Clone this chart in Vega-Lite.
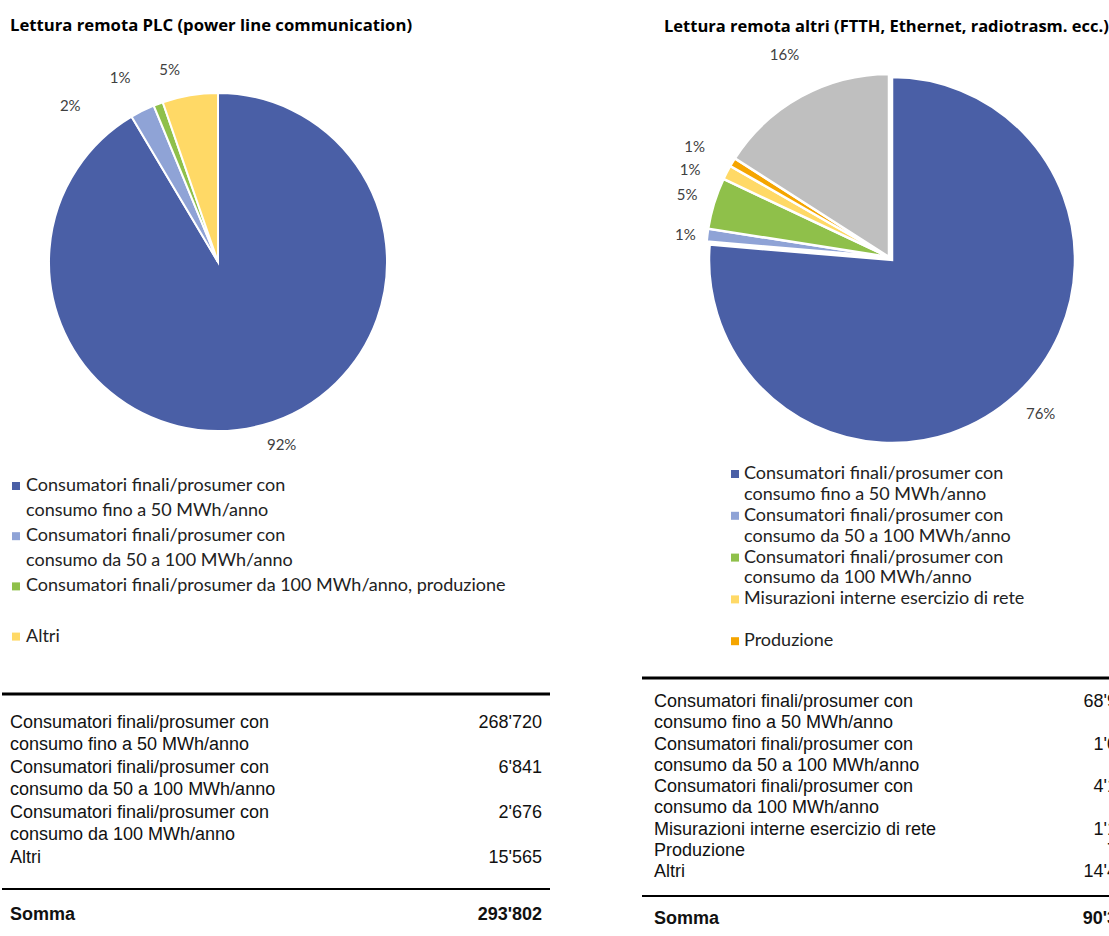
{
  "$schema": "https://vega.github.io/schema/vega-lite/v6.json",
  "padding": {"left": 0, "top": 17, "right": 0, "bottom": 0},
  "background": "white",
  "spacing": 0,
  "config": {
    "view": {"stroke": null, "fill": "#ffffff"},
    "locale": {"number": {"decimal": ".", "thousands": "'", "grouping": [3], "currency": ["", ""]}}
  },
  "resolve": {"scale": {"color": "independent"}},
  "datasets": {
    "plc": [
      {"legenda": "Consumatori finali/prosumer con\nconsumo fino a 50 MWh/anno", "tabella": "Consumatori finali/prosumer con\nconsumo fino a 50 MWh/anno", "valore": 268720, "quota": "92%", "ordine": 1, "riga_legenda": 0, "riga_tabella": 0},
      {"legenda": "Consumatori finali/prosumer con\nconsumo da 50 a 100 MWh/anno", "tabella": "Consumatori finali/prosumer con\nconsumo da 50 a 100 MWh/anno", "valore": 6841, "quota": "2%", "ordine": 2, "riga_legenda": 2, "riga_tabella": 2},
      {"legenda": "Consumatori finali/prosumer da 100 MWh/anno, produzione", "tabella": "Consumatori finali/prosumer con\nconsumo da 100 MWh/anno", "valore": 2676, "quota": "1%", "ordine": 3, "riga_legenda": 4, "riga_tabella": 4},
      {"legenda": "Altri", "tabella": "Altri", "valore": 15565, "quota": "5%", "ordine": 4, "riga_legenda": 6, "riga_tabella": 6}
    ],
    "altri": [
      {"legenda": "Consumatori finali/prosumer con\nconsumo fino a 50 MWh/anno", "tabella": "Consumatori finali/prosumer con\nconsumo fino a 50 MWh/anno", "valore": 68980, "quota": "76%", "ordine": 1, "riga_legenda": 0, "riga_tabella": 0},
      {"legenda": "Consumatori finali/prosumer con\nconsumo da 50 a 100 MWh/anno", "tabella": "Consumatori finali/prosumer con\nconsumo da 50 a 100 MWh/anno", "valore": 1020, "quota": "1%", "ordine": 2, "riga_legenda": 2, "riga_tabella": 2},
      {"legenda": "Consumatori finali/prosumer con\nconsumo da 100 MWh/anno", "tabella": "Consumatori finali/prosumer con\nconsumo da 100 MWh/anno", "valore": 4100, "quota": "5%", "ordine": 3, "riga_legenda": 4, "riga_tabella": 4},
      {"legenda": "Misurazioni interne esercizio di rete", "tabella": "Misurazioni interne esercizio di rete", "valore": 1150, "quota": "1%", "ordine": 4, "riga_legenda": 6, "riga_tabella": 6},
      {"legenda": "Produzione", "tabella": "Produzione", "valore": 700, "quota": "1%", "ordine": 5, "riga_legenda": 8, "riga_tabella": 7},
      {"legenda": "Altri", "tabella": "Altri", "valore": 14400, "quota": "16%", "ordine": 6, "riga_legenda": null, "riga_tabella": 8}
    ]
  },
  "vconcat": [
    {
      "bounds": "flush",
      "spacing": 239,
      "resolve": {"scale": {"color": "independent"}},
      "hconcat": [
        {
          "width": 432,
          "height": 402,
          "title": {"text": "Lettura remota PLC (power line communication)", "anchor": "start", "frame": "group", "dx": 8, "offset": 23, "font": "Open Sans", "fontSize": 16.7, "fontWeight": "bold", "color": "#000000"},
          "data": {"name": "plc"},
          "encoding": {
            "theta": {"field": "valore", "type": "quantitative", "stack": true},
            "order": {"field": "ordine", "type": "quantitative"}
          },
          "layer": [
            {"mark": {"type": "arc", "outerRadius": 169, "stroke": "#ffffff", "strokeWidth": 2},
             "encoding": {"color": {"field": "legenda", "type": "nominal", "legend": null,
               "scale": {"domain": ["Consumatori finali/prosumer con\nconsumo fino a 50 MWh/anno", "Consumatori finali/prosumer con\nconsumo da 50 a 100 MWh/anno", "Consumatori finali/prosumer da 100 MWh/anno, produzione", "Altri"],
                         "range": ["#4A5FA6", "#8FA3D6", "#8FC04A", "#FFD966"]}}}},
            {"mark": {"type": "text", "radius": 195, "dx": 12, "dy": -5, "font": "Lato", "fontSize": 15, "fill": "#404040"},
             "encoding": {"text": {"field": "quota"}, "opacity": {"condition": {"test": "datum.ordine == 1", "value": 1}, "value": 0}}},
            {"mark": {"type": "text", "radius": 174, "dx": -70, "dy": 0, "font": "Lato", "fontSize": 15, "fill": "#404040"},
             "encoding": {"text": {"field": "quota"}, "opacity": {"condition": {"test": "datum.ordine == 2", "value": 1}, "value": 0}}},
            {"mark": {"type": "text", "radius": 195, "dx": -29, "dy": -2, "font": "Lato", "fontSize": 15, "fill": "#404040"},
             "encoding": {"text": {"field": "quota"}, "opacity": {"condition": {"test": "datum.ordine == 3", "value": 1}, "value": 0}}},
            {"mark": {"type": "text", "radius": 195, "dx": -16, "dy": 0, "font": "Lato", "fontSize": 15, "fill": "#404040"},
             "encoding": {"text": {"field": "quota"}, "opacity": {"condition": {"test": "datum.ordine == 4", "value": 1}, "value": 0}}}
          ]
        },
        {
          "width": 438,
          "height": 398,
          "title": {"text": "Lettura remota altri (FTTH, Ethernet, radiotrasm. ecc.)", "anchor": "start", "frame": "group", "dx": -9, "offset": 13, "font": "Open Sans", "fontSize": 16.5, "fontWeight": "bold", "color": "#000000"},
          "data": {"name": "altri"},
          "encoding": {
            "theta": {"field": "valore", "type": "quantitative", "stack": true},
            "order": {"field": "ordine", "type": "quantitative"},
            "color": {"field": "legenda", "type": "nominal", "legend": null,
              "scale": {"domain": ["Consumatori finali/prosumer con\nconsumo fino a 50 MWh/anno", "Consumatori finali/prosumer con\nconsumo da 50 a 100 MWh/anno", "Consumatori finali/prosumer con\nconsumo da 100 MWh/anno", "Misurazioni interne esercizio di rete", "Produzione", "Altri"],
                        "range": ["#4A5FA6", "#8FA3D6", "#8FC04A", "#FFD966", "#F5A500", "#BFBFBF"]}}
          },
          "layer": [
            {"mark": {"type": "arc", "outerRadius": 183, "stroke": "#ffffff", "strokeWidth": 2.5},
             "encoding": {"opacity": {"condition": {"test": "datum.ordine == 1", "value": 1}, "value": 0}}},
            {"mark": {"type": "arc", "outerRadius": 183, "stroke": "#ffffff", "strokeWidth": 2.5, "xOffset": -3, "yOffset": -3},
             "encoding": {"opacity": {"condition": {"test": "datum.ordine == 1", "value": 0}, "value": 1}}},
            {"mark": {"type": "text", "radius": 205, "dx": 10, "dy": 3, "font": "Lato", "fontSize": 15, "fill": "#404040"},
             "encoding": {"color": null, "text": {"field": "quota"}, "opacity": {"condition": {"test": "datum.ordine == 1", "value": 1}, "value": 0}}},
            {"mark": {"type": "text", "radius": 205, "dx": -3, "dy": 0, "font": "Lato", "fontSize": 15, "fill": "#404040"},
             "encoding": {"color": null, "text": {"field": "quota"}, "opacity": {"condition": {"test": "datum.ordine == 2", "value": 1}, "value": 0}}},
            {"mark": {"type": "text", "radius": 205, "dx": -9, "dy": -5, "font": "Lato", "fontSize": 15, "fill": "#404040"},
             "encoding": {"color": null, "text": {"field": "quota"}, "opacity": {"condition": {"test": "datum.ordine == 3", "value": 1}, "value": 0}}},
            {"mark": {"type": "text", "radius": 205, "dx": -20, "dy": 5, "font": "Lato", "fontSize": 15, "fill": "#404040"},
             "encoding": {"color": null, "text": {"field": "quota"}, "opacity": {"condition": {"test": "datum.ordine == 4", "value": 1}, "value": 0}}},
            {"mark": {"type": "text", "radius": 205, "dx": -22, "dy": -7, "font": "Lato", "fontSize": 15, "fill": "#404040"},
             "encoding": {"color": null, "text": {"field": "quota"}, "opacity": {"condition": {"test": "datum.ordine == 5", "value": 1}, "value": 0}}},
            {"mark": {"type": "text", "radius": 205, "dx": -9, "dy": -25, "font": "Lato", "fontSize": 15, "fill": "#404040"},
             "encoding": {"color": null, "text": {"field": "quota"}, "opacity": {"condition": {"test": "datum.ordine == 6", "value": 1}, "value": 0}}}
          ]
        }
      ]
    },
    {
      "bounds": "flush",
      "spacing": 165,
      "resolve": {"scale": {"color": "independent"}},
      "hconcat": [
        {
          "width": 560,
          "height": 207,
          "data": {"name": "plc"},
          "encoding": {
            "x": {"datum": 0, "type": "quantitative", "scale": {"domain": [0, 1], "nice": false, "zero": false}, "axis": null},
            "y": {"field": "riga_legenda", "type": "quantitative", "scale": {"domain": [-0.916, 7.331], "reverse": true, "nice": false, "zero": false}, "axis": null}
          },
          "layer": [
            {"mark": {"type": "square", "size": 64, "opacity": 1, "xOffset": 14},
             "encoding": {"color": {"field": "legenda", "type": "nominal", "legend": null,
               "scale": {"domain": ["Consumatori finali/prosumer con\nconsumo fino a 50 MWh/anno", "Consumatori finali/prosumer con\nconsumo da 50 a 100 MWh/anno", "Consumatori finali/prosumer da 100 MWh/anno, produzione", "Altri"],
                         "range": ["#4A5FA6", "#8FA3D6", "#8FC04A", "#FFD966"]}}}},
            {"mark": {"type": "text", "align": "left", "baseline": "middle", "dx": 24, "lineBreak": "\n", "lineHeight": 25.1, "font": "Lato", "fontSize": 18, "fill": "#222222"},
             "encoding": {"text": {"field": "legenda"}}}
          ]
        },
        {
          "width": 384,
          "height": 207,
          "data": {"name": "altri"},
          "transform": [{"filter": {"field": "riga_legenda", "valid": true}}],
          "encoding": {
            "x": {"datum": 0, "type": "quantitative", "scale": {"domain": [0, 1], "nice": false, "zero": false}, "axis": null},
            "y": {"field": "riga_legenda", "type": "quantitative", "scale": {"domain": [-0.526, 9.378], "reverse": true, "nice": false, "zero": false}, "axis": null}
          },
          "layer": [
            {"mark": {"type": "square", "size": 64, "opacity": 1, "xOffset": 8},
             "encoding": {"color": {"field": "legenda", "type": "nominal", "legend": null,
               "scale": {"domain": ["Consumatori finali/prosumer con\nconsumo fino a 50 MWh/anno", "Consumatori finali/prosumer con\nconsumo da 50 a 100 MWh/anno", "Consumatori finali/prosumer con\nconsumo da 100 MWh/anno", "Misurazioni interne esercizio di rete", "Produzione", "Altri"],
                         "range": ["#4A5FA6", "#8FA3D6", "#8FC04A", "#FFD966", "#F5A500", "#BFBFBF"]}}}},
            {"mark": {"type": "text", "align": "left", "baseline": "middle", "dx": 17, "lineBreak": "\n", "lineHeight": 20.9, "font": "Lato", "fontSize": 18, "fill": "#222222"},
             "encoding": {"text": {"field": "legenda"}}}
          ]
        }
      ]
    },
    {
      "bounds": "flush",
      "spacing": 92,
      "hconcat": [
        {
          "width": 548,
          "height": 255,
          "data": {"name": "plc"},
          "layer": [
            {"mark": {"type": "text", "align": "left", "baseline": "middle", "dx": 8, "lineBreak": "\n", "lineHeight": 22, "font": "Liberation Sans", "fontSize": 18, "fill": "#111111"},
             "encoding": {
               "x": {"datum": 0, "type": "quantitative", "scale": {"domain": [0, 1], "nice": false, "zero": false}, "axis": null},
               "y": {"field": "riga_tabella", "type": "quantitative", "scale": {"domain": [-2.356, 8.977], "reverse": true, "nice": false, "zero": false}, "axis": null},
               "text": {"field": "tabella"}}},
            {"mark": {"type": "text", "align": "right", "baseline": "middle", "dx": -8, "font": "Liberation Sans", "fontSize": 18, "fill": "#111111"},
             "encoding": {
               "x": {"datum": 1, "type": "quantitative"},
               "y": {"field": "riga_tabella", "type": "quantitative"},
               "text": {"field": "valore", "type": "quantitative", "format": ",d"}}},
            {"transform": [{"aggregate": [{"op": "sum", "field": "valore", "as": "totale"}]}],
             "layer": [
               {"mark": {"type": "rule", "strokeWidth": 3, "color": "#000000"},
                "encoding": {"x": {"datum": 0, "type": "quantitative"}, "x2": {"datum": 1}, "y": {"datum": -1.289, "type": "quantitative"}}},
               {"mark": {"type": "rule", "strokeWidth": 2, "color": "#000000"},
                "encoding": {"x": {"datum": 0, "type": "quantitative"}, "x2": {"datum": 1}, "y": {"datum": 7.378, "type": "quantitative"}}},
               {"mark": {"type": "text", "text": "Somma", "align": "left", "baseline": "middle", "dx": 8, "font": "Liberation Sans", "fontSize": 18, "fontWeight": "bold", "fill": "#111111"},
                "encoding": {"x": {"datum": 0, "type": "quantitative"}, "y": {"datum": 8.533, "type": "quantitative"}}},
               {"mark": {"type": "text", "align": "right", "baseline": "middle", "dx": -8, "font": "Liberation Sans", "fontSize": 18, "fontWeight": "bold", "fill": "#111111"},
                "encoding": {"x": {"datum": 1, "type": "quantitative"}, "y": {"datum": 8.533, "type": "quantitative"}, "text": {"field": "totale", "type": "quantitative", "format": ",d"}}}
             ]}
          ]
        },
        {
          "width": 469,
          "height": 257,
          "data": {"name": "altri"},
          "layer": [
            {"mark": {"type": "text", "align": "left", "baseline": "middle", "dx": 12, "lineBreak": "\n", "lineHeight": 21, "font": "Liberation Sans", "fontSize": 18, "fill": "#111111"},
             "encoding": {
               "x": {"datum": 0, "type": "quantitative", "scale": {"domain": [0, 1], "nice": false, "zero": false}, "axis": null},
               "y": {"field": "riga_tabella", "type": "quantitative", "scale": {"domain": [-1.506, 10.588], "reverse": true, "nice": false, "zero": false}, "axis": null},
               "text": {"field": "tabella"}}},
            {"mark": {"type": "text", "align": "right", "baseline": "middle", "dx": 26, "clip": true, "font": "Liberation Sans", "fontSize": 18, "fill": "#111111"},
             "encoding": {
               "x": {"datum": 1, "type": "quantitative"},
               "y": {"field": "riga_tabella", "type": "quantitative"},
               "text": {"field": "valore", "type": "quantitative", "format": ",d"}}},
            {"transform": [{"aggregate": [{"op": "sum", "field": "valore", "as": "totale"}]}],
             "layer": [
               {"mark": {"type": "rule", "strokeWidth": 3, "color": "#000000"},
                "encoding": {"x": {"datum": 0, "type": "quantitative"}, "x2": {"datum": 1}, "y": {"datum": -1.129, "type": "quantitative"}}},
               {"mark": {"type": "rule", "strokeWidth": 2, "color": "#000000"},
                "encoding": {"x": {"datum": 0, "type": "quantitative"}, "x2": {"datum": 1}, "y": {"datum": 9.13, "type": "quantitative"}}},
               {"mark": {"type": "text", "text": "Somma", "align": "left", "baseline": "middle", "dx": 12, "font": "Liberation Sans", "fontSize": 18, "fontWeight": "bold", "fill": "#111111"},
                "encoding": {"x": {"datum": 0, "type": "quantitative"}, "y": {"datum": 10.21, "type": "quantitative"}}},
               {"mark": {"type": "text", "align": "right", "baseline": "middle", "dx": 26, "clip": true, "font": "Liberation Sans", "fontSize": 18, "fontWeight": "bold", "fill": "#111111"},
                "encoding": {"x": {"datum": 1, "type": "quantitative"}, "y": {"datum": 10.21, "type": "quantitative"}, "text": {"field": "totale", "type": "quantitative", "format": ",d"}}}
             ]}
          ]
        }
      ]
    }
  ]
}
